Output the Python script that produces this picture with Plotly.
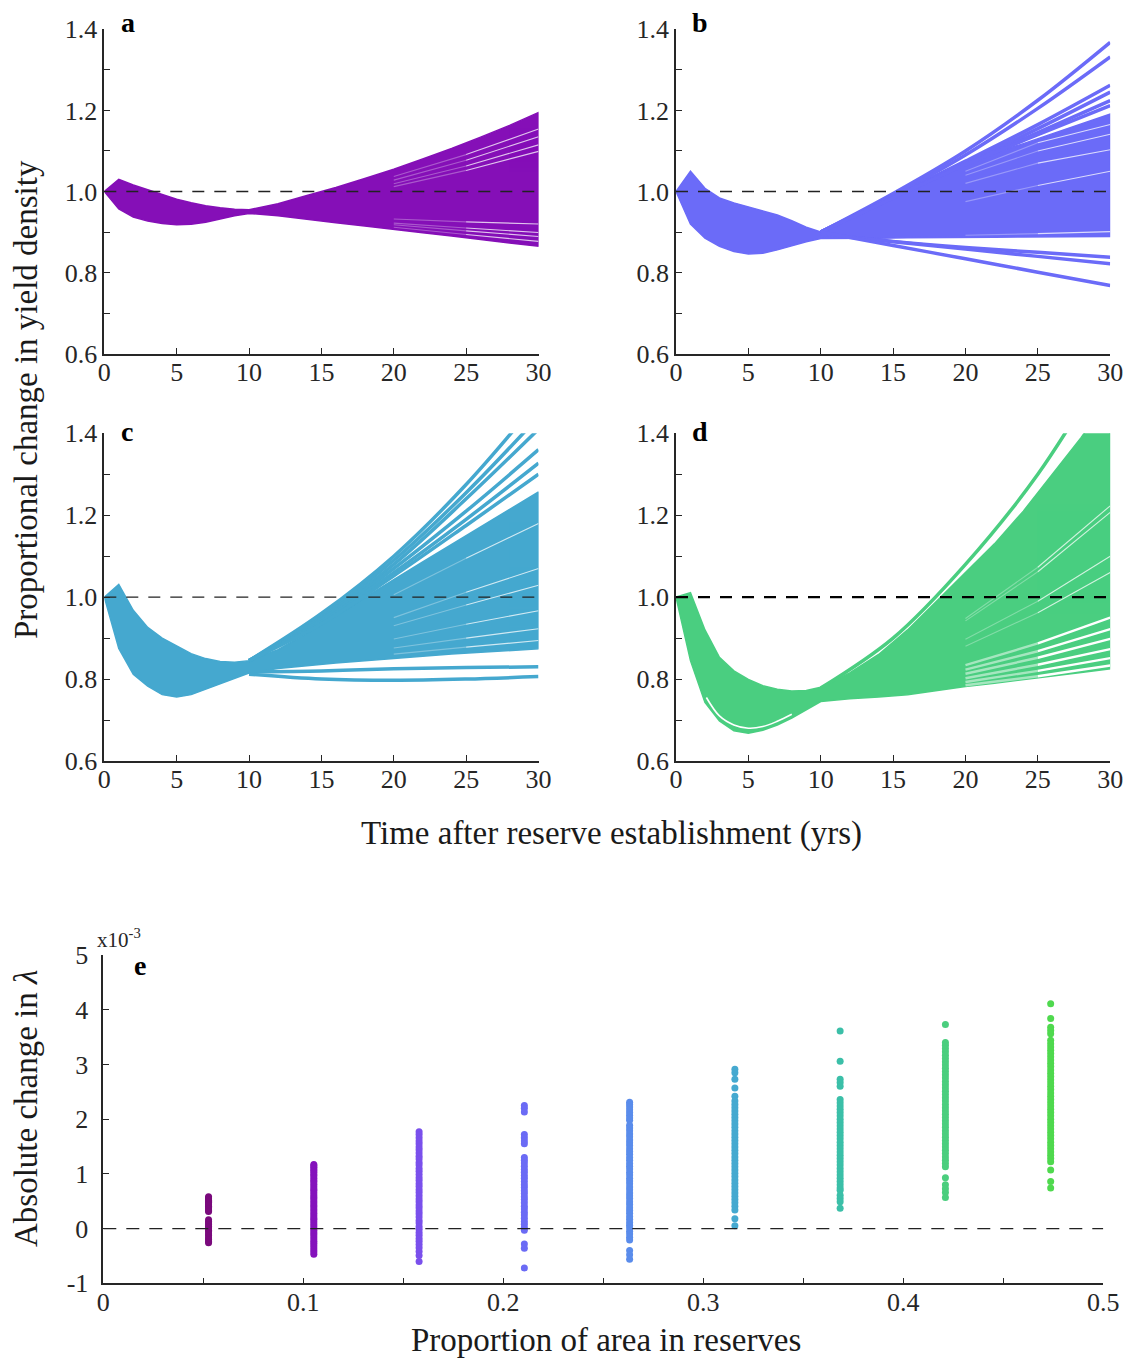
import plotly.graph_objects as go

# ---------------- data: panels a-d (proportional change in yield density) ----------------
t_env = [0, 1, 2, 3, 4, 5, 6, 7, 8, 9, 10, 12, 14, 16, 18, 20, 22, 24, 26, 28, 30]
a_upper = [1.0, 1.03, 1.016, 1.004, 0.992, 0.981, 0.972, 0.965, 0.96, 0.956, 0.955, 0.97, 0.99, 1.01, 1.032, 1.055, 1.08, 1.106, 1.134, 1.163, 1.195]
a_lower = [1.0, 0.957, 0.937, 0.927, 0.921, 0.918, 0.919, 0.924, 0.932, 0.94, 0.946, 0.94, 0.932, 0.923, 0.915, 0.907, 0.898, 0.89, 0.882, 0.873, 0.865]
b_upper = [1.0, 1.05, 1.008, 0.984, 0.972, 0.962, 0.952, 0.942, 0.928, 0.912, 0.9, 0.935, 0.97, 1.005, 1.04, 1.07, 1.095, 1.118, 1.142, 1.166, 1.191]
b_lower = [1.0, 0.92, 0.885, 0.865, 0.852, 0.846, 0.848, 0.856, 0.866, 0.876, 0.884, 0.885, 0.885, 0.886, 0.886, 0.887, 0.887, 0.888, 0.888, 0.889, 0.889]
c_upper = [1.0, 1.031, 0.968, 0.926, 0.9, 0.882, 0.862, 0.85, 0.843, 0.841, 0.845, 0.872, 0.912, 0.955, 1.0, 1.043, 1.086, 1.129, 1.171, 1.214, 1.257]
c_lower = [1.0, 0.875, 0.812, 0.783, 0.762, 0.756, 0.762, 0.775, 0.788, 0.802, 0.815, 0.826, 0.833, 0.839, 0.845, 0.851, 0.856, 0.861, 0.866, 0.87, 0.874]
d_upper = [1.0, 1.011, 0.92, 0.853, 0.82, 0.799, 0.784, 0.775, 0.771, 0.772, 0.78, 0.815, 0.86, 0.92, 0.99, 1.06, 1.13, 1.21, 1.3, 1.39, 1.49]
d_lower = [1.0, 0.845, 0.743, 0.698, 0.674, 0.668, 0.675, 0.688, 0.705, 0.725, 0.745, 0.752, 0.756, 0.762, 0.772, 0.782, 0.79, 0.798, 0.807, 0.816, 0.825]

# individual trajectories that separate from the main bundle
t_fan = [10, 15, 20, 25, 30]
b_fan = [
    [0.9, 0.995, 1.1, 1.225, 1.368],
    [0.9, 0.99, 1.09, 1.205, 1.332],
    [0.9, 0.988, 1.075, 1.165, 1.262],
    [0.9, 0.986, 1.07, 1.155, 1.245],
    [0.9, 0.985, 1.068, 1.145, 1.224],
    [0.9, 0.984, 1.066, 1.14, 1.212],
    [0.896, 0.877, 0.862, 0.85, 0.838],
    [0.895, 0.876, 0.858, 0.84, 0.822],
    [0.9, 0.867, 0.834, 0.801, 0.768],
]
c_fan = [
    [0.845, 0.96, 1.10, 1.275, 1.48],
    [0.845, 0.955, 1.09, 1.255, 1.44],
    [0.845, 0.95, 1.08, 1.24, 1.41],
    [0.845, 0.945, 1.07, 1.21, 1.36],
    [0.845, 0.94, 1.06, 1.19, 1.327],
    [0.845, 0.935, 1.052, 1.175, 1.30],
    [0.818, 0.82, 0.825, 0.828, 0.830],
    [0.812, 0.80, 0.797, 0.80, 0.806],
]
d_fan = [
    [0.778, 0.9, 1.08, 1.3, 1.58],
]

# thin gaps between neighbouring trajectories inside the bundles
t_gap = [20, 25, 30]
a_gaps = [
    [1.037, 1.091, 1.154], [1.028, 1.077, 1.135], [1.019, 1.063, 1.115], [1.012, 1.052, 1.099],
    [0.932, 0.925, 0.92], [0.922, 0.91, 0.899], [0.918, 0.903, 0.889], [0.912, 0.894, 0.877],
]
b_gaps = [
    [1.05, 1.12, 1.165], [1.04, 1.1, 1.141], [1.02, 1.07, 1.103], [0.975, 1.015, 1.05],
    [0.892, 0.896, 0.901],
]
c_gaps = [
    [1.006, 1.095, 1.18], [0.95, 1.012, 1.07], [0.93, 0.981, 1.029], [0.898, 0.934, 0.967],
    [0.876, 0.9, 0.923], [0.861, 0.878, 0.894],
]
d_gaps_upper = [
    [0.948, 1.073, 1.223], [0.942, 1.062, 1.207], [0.897, 0.99, 1.1], [0.88, 0.962, 1.06],
]
d_gaps_lower = [
    [0.834, 0.887, 0.95], [0.823, 0.868, 0.922], [0.813, 0.852, 0.898],
    [0.802, 0.835, 0.873], [0.793, 0.82, 0.851], [0.785, 0.807, 0.833],
]
d_edge_t = [2.1, 3, 4, 5, 6, 7, 8]
d_edge_v = [0.755, 0.71, 0.688, 0.68, 0.684, 0.697, 0.714]

# ---------------- data: panel e (absolute change in lambda, x1e-3) ----------------
reserve_props = [1/19, 2/19, 3/19, 4/19, 5/19, 6/19, 7/19, 8/19, 9/19]
e_s1 = [0.58, 0.56, 0.54, 0.52, 0.5, 0.48, 0.45, 0.43, 0.41, 0.38, 0.36, 0.33, 0.31, 0.16, 0.13, 0.1, 0.07,
        0.04, 0.01, -0.03, -0.06, -0.1, -0.13, -0.17, -0.2, -0.24, -0.26]
e_s2 = [1.17, 1.15, 1.12, 1.09, 1.06, 1.03, 0.99, 0.96, 0.92, 0.88, 0.85, 0.81, 0.77, 0.73, 0.7, 0.66, 0.62,
        0.58, 0.55, 0.51, 0.47, 0.43, 0.4, 0.36, 0.32, 0.28, 0.24, 0.2, 0.17, 0.13, 0.09, 0.05, 0.01, -0.03,
        -0.07, -0.11, -0.15, -0.19, -0.23, -0.27, -0.31, -0.35, -0.39, -0.43, -0.47]
e_s3 = [1.77, 1.72, 1.66, 1.6, 1.55, 1.49, 1.44, 1.38, 1.32, 1.27, 1.21, 1.16, 1.1, 1.05, 0.99, 0.93, 0.88,
        0.82, 0.77, 0.71, 0.66, 0.6, 0.54, 0.49, 0.43, 0.38, 0.32, 0.27, 0.21, 0.15, 0.1, 0.04, -0.01, -0.07,
        -0.12, -0.18, -0.23, -0.29, -0.35, -0.42, -0.49, -0.6]
e_s4 = [2.25, 2.2, 2.13, 1.72, 1.66, 1.6, 1.55, 1.3, 1.25, 1.2, 1.14, 1.08, 1.03, 0.97, 0.92, 0.86, 0.8, 0.75,
        0.69, 0.64, 0.58, 0.53, 0.47, 0.41, 0.36, 0.3, 0.25, 0.19, 0.13, 0.08, 0.02, -0.03, -0.28, -0.36, -0.72]
e_s5 = [2.31, 2.27, 2.22, 2.17, 2.12, 2.07, 2.02, 1.98, 1.89, 1.84, 1.79, 1.73, 1.68, 1.62, 1.57, 1.52, 1.46,
        1.41, 1.36, 1.3, 1.25, 1.19, 1.14, 1.09, 1.03, 0.98, 0.92, 0.87, 0.82, 0.76, 0.71, 0.65, 0.6, 0.55,
        0.49, 0.44, 0.38, 0.33, 0.28, 0.22, 0.17, 0.11, 0.06, 0.01, -0.05, -0.1, -0.16, -0.21, -0.4, -0.48, -0.56]
e_s6 = [2.91, 2.85, 2.73, 2.57, 2.42, 2.33, 2.27, 2.21, 2.15, 2.09, 2.03, 1.97, 1.91, 1.85, 1.79, 1.73, 1.67,
        1.61, 1.55, 1.49, 1.43, 1.37, 1.31, 1.25, 1.19, 1.13, 1.07, 1.01, 0.95, 0.89, 0.83, 0.77, 0.71, 0.65,
        0.59, 0.53, 0.47, 0.41, 0.34, 0.18, 0.05]
e_s7 = [3.61, 3.06, 2.73, 2.67, 2.6, 2.36, 2.3, 2.24, 2.18, 2.12, 2.06, 2.0, 1.94, 1.88, 1.82, 1.76, 1.7,
        1.64, 1.58, 1.52, 1.46, 1.4, 1.34, 1.28, 1.22, 1.16, 1.1, 1.04, 0.98, 0.92, 0.86, 0.8, 0.74, 0.7,
        0.61, 0.55, 0.49, 0.37]
e_s8 = [3.73, 3.4, 3.35, 3.29, 3.23, 3.17, 3.11, 3.05, 2.99, 2.93, 2.87, 2.81, 2.75, 2.69, 2.63, 2.57, 2.51,
        2.45, 2.39, 2.33, 2.27, 2.21, 2.15, 2.09, 2.03, 1.97, 1.91, 1.85, 1.79, 1.73, 1.67, 1.61, 1.55, 1.49,
        1.43, 1.37, 1.31, 1.25, 1.19, 1.13, 0.93, 0.8, 0.73, 0.66, 0.57]
e_s9 = [4.11, 3.84, 3.68, 3.62, 3.56, 3.44, 3.38, 3.32, 3.26, 3.2, 3.14, 3.08, 3.02, 2.96, 2.9, 2.84, 2.78,
        2.72, 2.66, 2.6, 2.54, 2.48, 2.42, 2.36, 2.3, 2.24, 2.18, 2.12, 2.06, 2.0, 1.94, 1.88, 1.82, 1.76,
        1.7, 1.64, 1.58, 1.52, 1.46, 1.4, 1.34, 1.28, 1.22, 1.07, 0.86, 0.74]
e_strips = [e_s1, e_s2, e_s3, e_s4, e_s5, e_s6, e_s7, e_s8, e_s9]

x_ticks_abcd = [0, 5, 10, 15, 20, 25, 30]
y_ticks_abcd = [0.6, 0.8, 1.0, 1.2, 1.4]
y_text_abcd = ["0.6", "0.8", "1.0", "1.2", "1.4"]
y_minor_abcd = [0.7, 0.9, 1.1, 1.3]
x_ticks_e = [0, 0.1, 0.2, 0.3, 0.4, 0.5]
x_text_e = ["0", "0.1", "0.2", "0.3", "0.4", "0.5"]
x_minor_e = [0.05, 0.15, 0.25, 0.35, 0.45]
y_ticks_e = [-1, 0, 1, 2, 3, 4, 5]
y_text_e = ["-1", "0", "1", "2", "3", "4", "5"]

# ---------------- styling ----------------
W, H = 1131, 1361
FONT = "Liberation Serif"
panel_colors = ["#850FB7", "#6B6BF8", "#45A8CF", "#4ACE80"]
strip_colors = ["#7A0A7C", "#8512BC", "#7A50EC", "#6B6BF5", "#5A8CEB", "#45A9D0", "#3BBFA8", "#4BCE7E", "#4FD94E"]
AX = "#262626"


def px_x(x):
    return x / W


def px_y(y):
    return 1 - y / H


fig = go.Figure()


def add_gap(xa, ya, g, width, op_early, op_late):
    fig.add_trace(go.Scatter(
        x=t_gap[:2], y=g[:2], xaxis=xa, yaxis=ya, mode="lines", opacity=op_early,
        line=dict(color="white", width=width), hoverinfo="skip", showlegend=False))
    fig.add_trace(go.Scatter(
        x=t_gap[1:], y=g[1:], xaxis=xa, yaxis=ya, mode="lines", opacity=op_late,
        line=dict(color="white", width=width), hoverinfo="skip", showlegend=False))


panels = [
    ("x", "y", a_upper, a_lower, [], a_gaps),
    ("x2", "y2", b_upper, b_lower, b_fan, b_gaps),
    ("x3", "y3", c_upper, c_lower, c_fan, c_gaps),
    ("x4", "y4", d_upper, d_lower, d_fan, d_gaps_upper),
]

for i, (xa, ya, up, lo, fan, gaps) in enumerate(panels):
    col = panel_colors[i]
    fig.add_trace(go.Scatter(
        x=t_env + t_env[::-1], y=up + lo[::-1], xaxis=xa, yaxis=ya,
        mode="lines", fill="toself", fillcolor=col,
        line=dict(color=col, width=1.5), hoverinfo="skip", showlegend=False))
    for curve in fan:
        fig.add_trace(go.Scatter(
            x=t_fan, y=curve, xaxis=xa, yaxis=ya, mode="lines",
            line=dict(color=col, width=3.5, shape="spline"), hoverinfo="skip", showlegend=False))
    for g in gaps:
        add_gap(xa, ya, g, 1.1, 0.3, 0.75)

for g in d_gaps_lower:
    add_gap("x4", "y4", g, 2.4, 0.5, 1.0)
fig.add_trace(go.Scatter(
    x=d_edge_t, y=d_edge_v, xaxis="x4", yaxis="y4", mode="lines",
    line=dict(color="white", width=1.6, shape="spline"), hoverinfo="skip", showlegend=False))

# panel e strips
for k, ys in enumerate(e_strips):
    fig.add_trace(go.Scatter(
        x=[reserve_props[k]] * len(ys), y=ys, xaxis="x5", yaxis="y5", mode="markers",
        marker=dict(color=strip_colors[k], size=7, line=dict(width=0)),
        hoverinfo="skip", showlegend=False))

# ---------------- axes ----------------
tickfont = dict(family=FONT, size=26, color=AX)
common = dict(showline=True, linecolor=AX, linewidth=1.6, ticks="inside", ticklen=6,
              tickwidth=1.4, tickcolor=AX, showgrid=False, zeroline=False, tickfont=tickfont,
              mirror=False, fixedrange=True, automargin=False)
minor_style = dict(ticks="inside", ticklen=6, tickwidth=1.4, tickcolor=AX, showgrid=False)

dom_left = [px_x(104.3), px_x(538.5)]
dom_right = [px_x(676), px_x(1110.2)]
dom_top = [px_y(353.7), px_y(29.3)]
dom_mid = [px_y(761), px_y(433.3)]

layout_axes = {}
for idx, (dx, dy) in enumerate([(dom_left, dom_top), (dom_right, dom_top), (dom_left, dom_mid), (dom_right, dom_mid)]):
    n = "" if idx == 0 else str(idx + 1)
    layout_axes["xaxis" + n] = dict(common, domain=dx, anchor="y" + n, range=[0, 30],
                                    tickmode="array", tickvals=x_ticks_abcd,
                                    ticktext=[str(v) for v in x_ticks_abcd], ticklabelstandoff=-6)
    layout_axes["yaxis" + n] = dict(common, domain=dy, anchor="x" + n, range=[0.6, 1.4],
                                    tickmode="array", tickvals=y_ticks_abcd, ticktext=y_text_abcd,
                                    ticklabelstandoff=0, minor=dict(minor_style, tickvals=y_minor_abcd))
layout_axes["xaxis5"] = dict(common, domain=[px_x(103.3), px_x(1103.3)], anchor="y5", range=[0, 0.5],
                             tickmode="array", tickvals=x_ticks_e, ticktext=x_text_e, ticklabelstandoff=-5,
                             minor=dict(minor_style, tickvals=x_minor_e))
layout_axes["yaxis5"] = dict(common, domain=[px_y(1283.3), px_y(955)], anchor="x5", range=[-1, 5],
                             tickmode="array", tickvals=y_ticks_e, ticktext=y_text_e, ticklabelstandoff=8)

fig.update_layout(**layout_axes)

# reference dashed lines
shapes = []
for i, (xa, ya) in enumerate([("x", "y"), ("x2", "y2"), ("x3", "y3"), ("x4", "y4")]):
    bold = i == 3
    shapes.append(dict(type="line", xref=xa, yref=ya, x0=0, x1=30, y0=1, y1=1, layer="above",
                       line=dict(color="#000000" if bold else "#222222", width=2.2 if bold else 1.4,
                                 dash="12px,10px")))
shapes.append(dict(type="line", xref="x5", yref="y5", x0=0, x1=0.5, y0=0, y1=0, layer="above",
                   line=dict(color="#222222", width=1.4, dash="13px,10px")))

# annotations
ann = []
for lab, x, y in [("a", 119, 22), ("b", 690, 22), ("c", 119, 431), ("d", 690, 431), ("e", 132, 965)]:
    ann.append(dict(text="<b>%s</b>" % lab, x=px_x(x), y=px_y(y), xref="paper", yref="paper",
                    xanchor="left", yanchor="middle", showarrow=False,
                    font=dict(family=FONT, size=28, color="black")))
title_font = dict(family=FONT, size=33, color="#1a1a1a")
ann.append(dict(text="Proportional change in yield density", x=px_x(26), y=px_y(400), xref="paper",
                yref="paper", textangle=-90, showarrow=False, font=title_font,
                xanchor="center", yanchor="middle"))
ann.append(dict(text="Time after reserve establishment (yrs)", x=px_x(611), y=px_y(833), xref="paper",
                yref="paper", showarrow=False, font=title_font, xanchor="center", yanchor="middle"))
ann.append(dict(text="Absolute change in <i>λ</i>", x=px_x(26), y=px_y(1109), xref="paper",
                yref="paper", textangle=-90, showarrow=False, font=title_font,
                xanchor="center", yanchor="middle"))
ann.append(dict(text="Proportion of area in reserves", x=px_x(606), y=px_y(1340), xref="paper",
                yref="paper", showarrow=False, font=title_font, xanchor="center", yanchor="middle"))
ann.append(dict(text="x10<sup>-3</sup>", x=px_x(95), y=px_y(939), xref="paper", yref="paper",
                showarrow=False, font=dict(family=FONT, size=21, color=AX),
                xanchor="left", yanchor="middle"))

fig.update_layout(
    width=W, height=H, margin=dict(l=0, r=0, t=0, b=0, autoexpand=False),
    paper_bgcolor="white", plot_bgcolor="white",
    shapes=shapes, annotations=ann, showlegend=False,
    font=dict(family=FONT),
)

fig.write_html("out.html")
